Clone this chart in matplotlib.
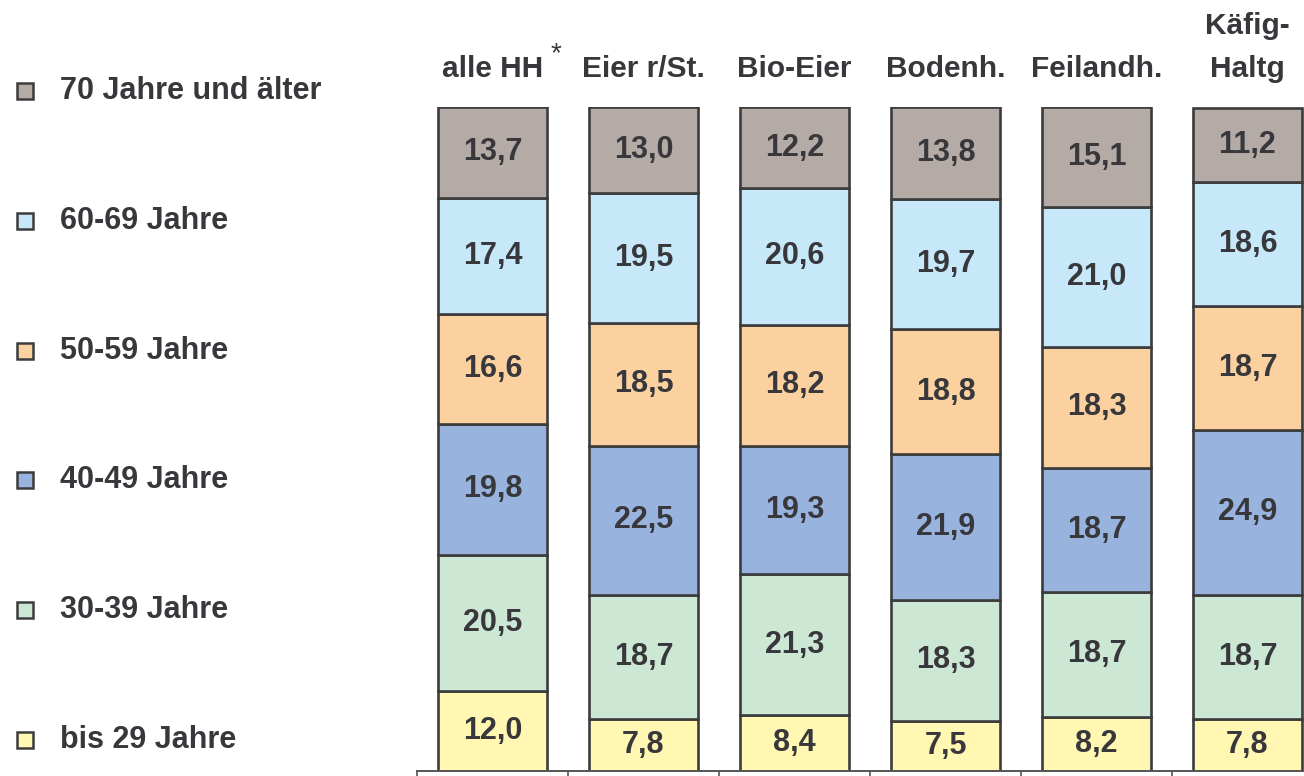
import numpy as np
import matplotlib.pyplot as plt
from matplotlib.patches import Rectangle
from matplotlib.transforms import blended_transform_factory

plt.rcParams['font.family'] = ['Liberation Sans', 'DejaVu Sans']

# data
categories = ['alle HH', 'Eier r/St.', 'Bio-Eier', 'Bodenh.', 'Feilandh.', 'Käfig-\nHaltg']
groups = ['bis 29 Jahre', '30-39 Jahre', '40-49 Jahre', '50-59 Jahre', '60-69 Jahre', '70 Jahre und älter']
bis29 = [12.0, 7.8, 8.4, 7.5, 8.2, 7.8]
j30_39 = [20.5, 18.7, 21.3, 18.3, 18.7, 18.7]
j40_49 = [19.8, 22.5, 19.3, 21.9, 18.7, 24.9]
j50_59 = [16.6, 18.5, 18.2, 18.8, 18.3, 18.7]
j60_69 = [17.4, 19.5, 20.6, 19.7, 21.0, 18.6]
j70 = [13.7, 13.0, 12.2, 13.8, 15.1, 11.2]
series = [bis29, j30_39, j40_49, j50_59, j60_69, j70]

colors = ['#fff7b2', '#cde7d5', '#98b4de', '#fbd1a0', '#c6e8f8', '#b5aba6']
txt = '#38383c'
edge = '#3c3c3c'

W, H = 1304, 776
fig = plt.figure(figsize=(W / 100, H / 100), dpi=100)
ax = fig.add_axes([417 / W, 5 / H, 906 / W, 664 / H])

x = np.arange(len(categories))
bottom = np.zeros(len(categories))
for vals, col in zip(series, colors):
    vals = np.array(vals)
    ax.bar(x, vals, width=0.72, bottom=bottom, color=col, edgecolor=edge, linewidth=1.9)
    for xi, b, v in zip(x, bottom, vals):
        ax.text(xi, b + v / 2, f'{v:.1f}'.replace('.', ','), ha='center', va='center',
                fontsize=22, fontweight='bold', color=txt)
    bottom += vals

ax.set_xlim(-0.5, len(categories) - 0.5)
ax.set_ylim(0, 100)
for s in ['top', 'right', 'left']:
    ax.spines[s].set_visible(False)
ax.spines['bottom'].set_color('#555555')
ax.spines['bottom'].set_linewidth(1.4)
ax.set_yticks([])
ax.set_xticks(np.arange(len(categories) + 1) - 0.5)
ax.set_xticklabels([])
ax.tick_params(axis='x', length=8, width=1.2, color='#555555')

# column headers
tr = blended_transform_factory(ax.transData, fig.transFigure)
for xi, cat in zip(x, categories):
    lines = cat.split('\n')
    for k, line in enumerate(reversed(lines)):
        ax.text(xi, 1 - (77 - 43 * k) / H, line, transform=tr, ha='center', va='baseline',
                fontsize=21.5, fontweight='bold', color=txt)
fig.text(556 / W, 1 - 54 / H, '*', ha='center', va='center', fontsize=20, color=txt)

# legend
ys = np.linspace(740, 91, len(groups))
for g, col, yp in zip(groups, colors, ys):
    fig.add_artist(Rectangle((17 / W, 1 - (yp + 8) / H), 16 / W, 16 / H,
                             transform=fig.transFigure, facecolor=col,
                             edgecolor=edge, linewidth=1.8))
    fig.text(60 / W, 1 - yp / H, g, ha='left', va='center',
             fontsize=22, fontweight='bold', color=txt)

fig.savefig('out.png', dpi=100)
